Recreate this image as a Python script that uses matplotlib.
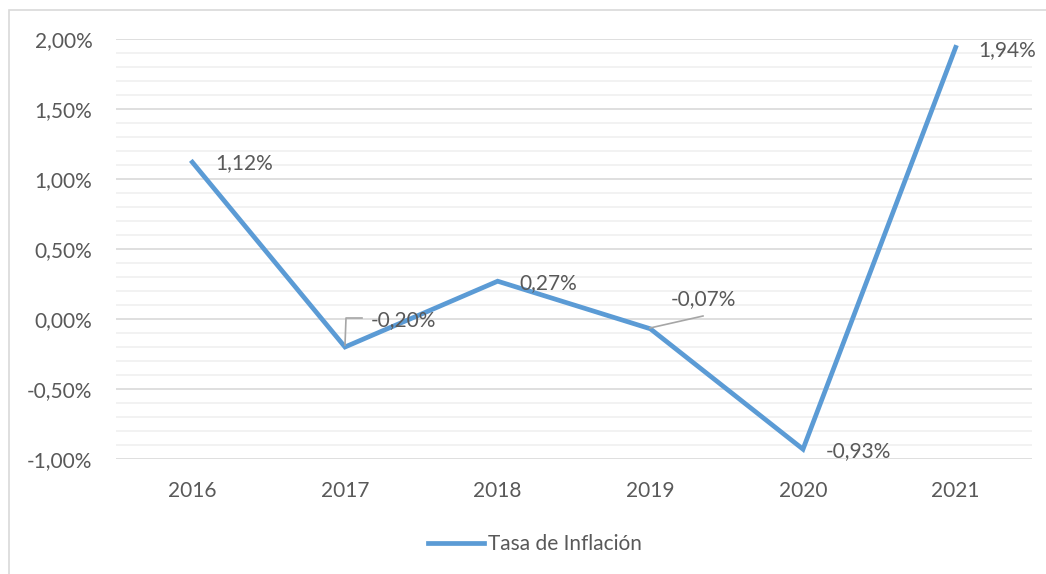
import matplotlib
matplotlib.use("Agg")
import matplotlib.pyplot as plt
from matplotlib.ticker import MultipleLocator, FuncFormatter
from matplotlib.patches import Rectangle
from matplotlib.lines import Line2D

years = ["2016", "2017", "2018", "2019", "2020", "2021"]
inflation = [1.12, -0.20, 0.27, -0.07, -0.93, 1.94]
series_name = "Tasa de Inflación"

plt.rcParams['font.family'] = ['Lato', 'DejaVu Sans']
txt = '#595959'
blue = '#5B9BD5'
fs = 15

fig = plt.figure(figsize=(10.46, 5.74), dpi=100)
fig.patches.append(Rectangle((9/1046, -0.01), 1.1, 1 - 10/574 + 0.01, transform=fig.transFigure,
                             fill=False, edgecolor='#D9D9D9', linewidth=1.2))
ax = fig.add_axes([116/1046, 1 - 459/574, (1032 - 116)/1046, 420/574])

x = list(range(len(years)))
ax.plot(x, inflation, color=blue, linewidth=3.4, solid_joinstyle='miter', zorder=3)
ax.set_xlim(-0.5, len(years) - 0.5)
ax.set_ylim(-1.0, 2.0)
ax.yaxis.set_major_locator(MultipleLocator(0.5))
ax.yaxis.set_minor_locator(MultipleLocator(0.1))
ax.yaxis.set_major_formatter(FuncFormatter(lambda v, p: f"{v:.2f}%".replace('.', ',')))
ax.set_xticks(x)
ax.set_xticklabels(years)
ax.grid(axis='y', which='major', color='#D9D9D9', linewidth=1.2, zorder=0)
ax.grid(axis='y', which='minor', color='#F0F0F0', linewidth=1.2, zorder=0)
for s in ax.spines.values():
    s.set_visible(False)
ax.tick_params(axis='both', which='both', length=0, labelcolor=txt, labelsize=fs)
ax.tick_params(axis='y', pad=17)
ax.tick_params(axis='x', pad=16)

def fmt(v):
    return f"{v:.2f}%".replace('.', ',')

# label offsets in pixels (dx to left edge, dy to center)
offsets = [(23, -1), (26, 27), (22, -2), (20, 30), (23, -2), (23, -3)]
for i, (v, (dx, dy)) in enumerate(zip(inflation, offsets)):
    ax.annotate(fmt(v), (i, v), xytext=(dx, dy), textcoords='offset pixels',
                ha='left', va='center', fontsize=fs, color=txt, zorder=4)

# leader lines (figure pixel positions)
pts17 = [(345, 345), (346, 318), (362, 318)]
pts19 = [(650, 328), (703, 316)]
for pts in (pts17, pts19):
    xs = [p[0] / 1046 for p in pts]
    ys = [1 - p[1] / 574 for p in pts]
    fig.add_artist(Line2D(xs, ys, transform=fig.transFigure, color='#A6A6A6', linewidth=1.2, zorder=5))

handle = Line2D([], [], color=blue, linewidth=3.4)
fig.legend([handle], [series_name], loc='center', bbox_to_anchor=(535/1046, 1 - 544/574),
           frameon=False, fontsize=fs, labelcolor=txt, handlelength=2.65, handletextpad=0.2)

fig.savefig("out.png", dpi=100)
